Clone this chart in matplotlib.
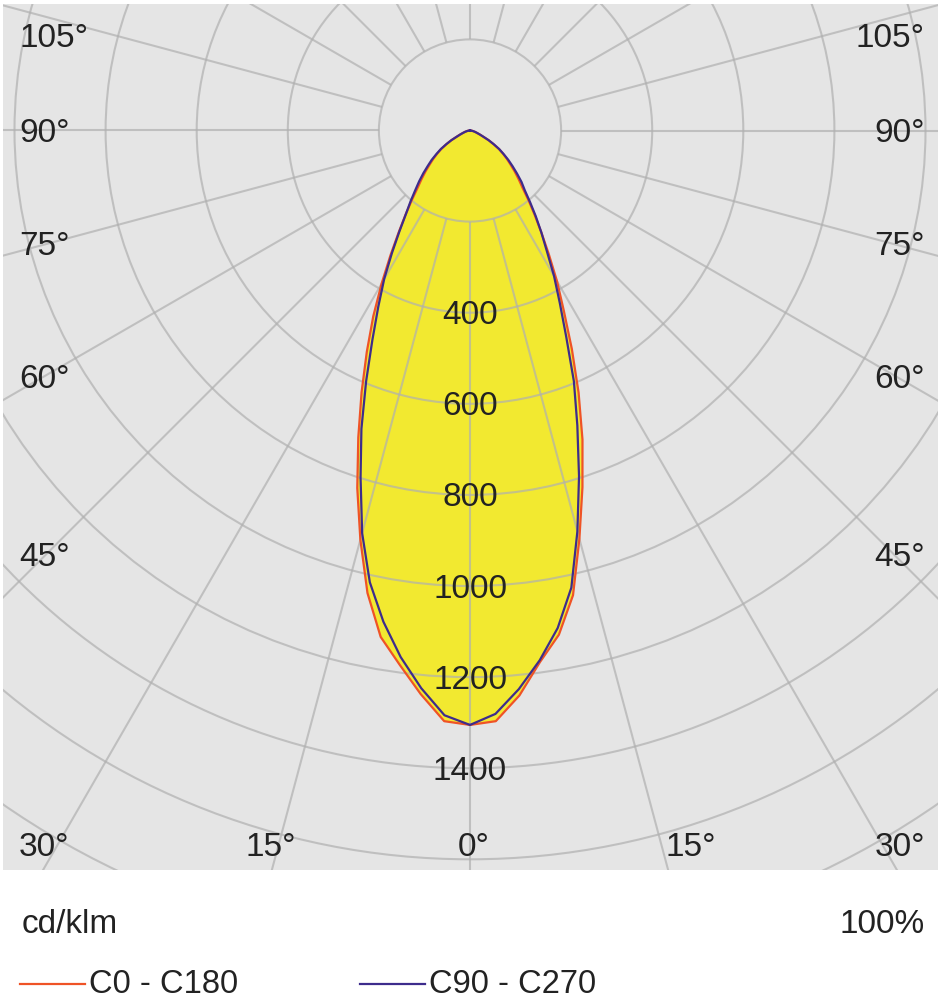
import numpy as np
import matplotlib.pyplot as plt
from matplotlib.patches import Circle

plt.rcParams['font.family'] = ['Liberation Sans', 'DejaVu Sans']

# gamma angles (deg from nadir) and intensities in cd/klm
gamma = [0, 2.5, 5, 7.5, 10, 12.5, 15, 17.5, 20, 22.5, 25, 27.5, 30, 32.5, 35, 37.5,
         40, 42.5, 45, 47.5, 50, 52.5, 55, 57.5, 60, 62.5, 65, 67.5, 70, 72.5, 75,
         77.5, 80, 82.5, 85, 87.5, 90]

c0 = [1305, 1298, 1245, 1177, 1124, 1045, 928, 821, 722, 623, 529, 446, 382, 322, 273, 233,
      200, 171, 151, 133, 116, 102, 88, 75, 59, 46, 32, 24, 18, 14, 11,
      8, 6, 4, 3, 1, 0]
c180 = [1305, 1298, 1242, 1183, 1129, 1040, 930, 823, 717, 622, 536, 460, 388, 325, 273, 232,
        198, 170, 150, 132, 115, 101, 87, 74, 59, 46, 32, 24, 18, 14, 11,
        8, 6, 4, 3, 1, 0]
c90 = [1305, 1282, 1231, 1173, 1109, 1028, 911, 796, 689, 596, 500, 427, 369, 314, 273, 237,
       205, 178, 160, 140, 122, 106, 90, 76, 60, 46, 32, 24, 18, 14, 11,
       8, 6, 4, 3, 1, 0]
c270 = [1305, 1285, 1229, 1166, 1095, 1016, 915, 799, 697, 596, 507, 436, 377, 319, 270, 231,
        203, 178, 158, 139, 121, 106, 90, 76, 60, 46, 32, 24, 18, 14, 11,
        8, 6, 4, 3, 1, 0]

ring_values = [400, 600, 800, 1000, 1200, 1400]
unit_label = 'cd/klm'
ratio_label = '100%'
legend_names = ['C0 - C180', 'C90 - C270']

# pixel layout of the reference
W, H = 941, 1000
cx, cy = 470, 130.5
s = 0.4555  # px per cd/klm

fig = plt.figure(figsize=(W / 100, H / 100), dpi=100)
ax = fig.add_axes([3 / W, 1 - 870 / H, 935 / W, 866 / H])
ax.set_facecolor('#e5e5e5')
ax.set_xlim((3 - cx) / s, (938 - cx) / s)
ax.set_ylim((cy - 870) / s, (cy - 4) / s)
ax.set_xticks([])
ax.set_yticks([])
for sp in ax.spines.values():
    sp.set_visible(False)


def curve(right, left):
    g = np.radians(np.array(gamma))
    r = np.array(right, dtype=float)
    l = np.array(left, dtype=float)
    xs = np.concatenate([-l[::-1] * np.sin(g[::-1]), r[1:] * np.sin(g[1:])])
    ys = np.concatenate([-l[::-1] * np.cos(g[::-1]), -r[1:] * np.cos(g[1:])])
    return xs, ys


x1, y1 = curve(c0, c180)
x2, y2 = curve(c90, c270)

yellow = '#f2e930'
ax.fill(x1, y1, color=yellow, lw=0, zorder=1)
ax.fill(x2, y2, color=yellow, lw=0, zorder=1)

# grid
gc = '#b0b0b0'
for r in range(200, 2200, 200):
    ax.add_patch(Circle((0, 0), r, fill=False, ec=gc, lw=1.5, alpha=0.7, zorder=2))
for a in range(0, 360, 15):
    t = np.radians(a)
    ax.plot([200 * np.sin(t), 2400 * np.sin(t)], [-200 * np.cos(t), -2400 * np.cos(t)],
            color=gc, lw=1.5, alpha=0.7, zorder=2, solid_capstyle='butt')

for v in ring_values:
    ax.text(0, -v - 11.5 / s, str(v), ha='center', va='baseline', fontsize=24,
            color='#222222', zorder=3)

red = '#ef5326'
blue = '#3d2c8c'
ax.plot(x1, y1, color=red, lw=1.6, zorder=4)
ax.plot(x2, y2, color=blue, lw=1.6, zorder=5)


def ftext(x, y, txt, ha='left', size=24):
    fig.text(x / W, 1 - y / H, txt, ha=ha, va='baseline', fontsize=size, color='#222222')


# angle labels on the sides
side = [('105°', 47), ('90°', 142), ('75°', 255), ('60°', 388), ('45°', 566.5)]
for txt, yb in side:
    ftext(19, yb, txt)
    ftext(925, yb, txt, ha='right')

# angle labels along the bottom
ftext(19, 856, '30°')
ftext(245, 856, '15°')
ftext(458, 856, '0°')
ftext(665, 856, '15°')
ftext(925, 856, '30°', ha='right')

ftext(22, 933, unit_label)
ftext(925, 933, ratio_label, ha='right')

# legend
fig.add_artist(plt.Line2D([20 / W, 85 / W], [1 - 984 / H] * 2, color=red, lw=1.6))
ftext(89, 993, legend_names[0], size=23.5)
fig.add_artist(plt.Line2D([360 / W, 425 / W], [1 - 984 / H] * 2, color=blue, lw=1.6))
ftext(429, 993, legend_names[1], size=23.5)

fig.savefig('out.png', dpi=100, facecolor='white')
